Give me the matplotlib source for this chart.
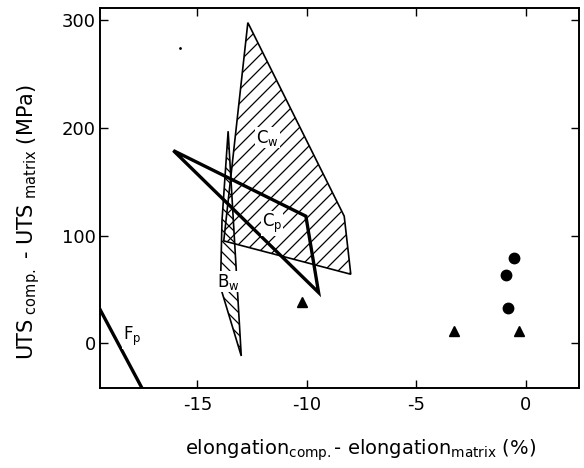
"""
UTS gain versus elongation loss for the composite families (scanned figure redraw).
"""

import matplotlib

matplotlib.use("Agg")
import matplotlib.pyplot as plt
import numpy as np
from matplotlib.collections import LineCollection
from matplotlib.patches import Polygon

plt.rcParams["font.family"] = ["DejaVu Sans"]
plt.rcParams["mathtext.default"] = "regular"
plt.rcParams["axes.unicode_minus"] = False

# polygon outlines, (elongation diff %, UTS diff MPa)
cw_x = [-12.7, -8.3, -8.0, -13.8]
cw_y = [298, 118, 64, 95]
bw_x = [-13.6, -13.0, -13.95, -13.88]
bw_y = [197, -12, 52, 114]
cp_x = [-16.1, -10.05, -9.47]
cp_y = [179, 118, 47]
fp_x = [-19.6, -17.4]
fp_y = [37, -47]

# single measurements
circle_x = [-0.55, -0.93, -0.83]
circle_y = [79.5, 63.4, 32.5]
triangle_x = [-10.23, -3.28, -0.3]
triangle_y = [38.3, 11.4, 11.4]

region_labels = ["$C_w$", "$C_p$", "$B_w$", "$F_p$"]
label_x = [-11.8, -11.6, -13.6, -18.0]
label_y = [191, 111, 57, 6]

AX_W, AX_H = 479, 380  # axes size in pixels


def hatch(ax, patch, direction, spacing):
    """Hand-drawn style hatching clipped to a patch; spacing in pixels along x."""
    segs = []
    for c in np.arange(-AX_H - AX_W, AX_W + AX_H, spacing):
        if direction > 0:
            p0, p1 = (c, 0), (c + AX_H, AX_H)
        else:
            p0, p1 = (c, AX_H), (c + AX_H, 0)
        segs.append([(p0[0] / AX_W, p0[1] / AX_H), (p1[0] / AX_W, p1[1] / AX_H)])
    lines = LineCollection(segs, colors="black", linewidths=0.9,
                           transform=ax.transAxes)
    lines.set_clip_path(patch)
    ax.add_collection(lines)


fig = plt.figure(figsize=(5.84, 4.68), dpi=100)
ax = fig.add_axes([100 / 584, 80 / 468, AX_W / 584, AX_H / 468])
ax.set_xlim(-19.45, 2.42)
ax.set_ylim(-41.8, 311.6)

cw = Polygon(list(zip(cw_x, cw_y)), closed=True, facecolor="none",
             edgecolor="black", linewidth=1.2)
bw = Polygon(list(zip(bw_x, bw_y)), closed=True, facecolor="none",
             edgecolor="black", linewidth=1.2)
ax.add_patch(cw)
ax.add_patch(bw)
hatch(ax, cw, 1, spacing=14)
hatch(ax, bw, -1, spacing=11)
ax.add_patch(Polygon(list(zip(cp_x, cp_y)), closed=True, facecolor="none",
                     edgecolor="black", linewidth=2.4, joinstyle="miter"))
ax.plot(fp_x, fp_y, color="black", linewidth=2.4)

ax.plot(circle_x, circle_y, "o", color="black", markersize=7.5)
ax.plot(triangle_x, triangle_y, "^", color="black", markersize=7)
ax.plot([-15.8], [274], ".", color="black", markersize=2)

for text, x, y in zip(region_labels, label_x, label_y):
    ax.text(x, y, text, fontsize=12, ha="center", va="center", zorder=5,
            bbox=dict(facecolor="white", edgecolor="none", pad=0.5))

ax.set_xticks([-15, -10, -5, 0])
ax.set_yticks([0, 100, 200, 300])
ax.tick_params(direction="in", length=6, width=1, top=True, right=True,
               labelsize=13)
ax.tick_params(axis="x", pad=6)
ax.tick_params(axis="y", pad=3)
for spine in ax.spines.values():
    spine.set_linewidth(1.4)

ax.set_xlabel("elongation$_{comp.}$- elongation$_{matrix}$ (%)", fontsize=14)
ax.set_ylabel("UTS$_{\\ comp.}$ - UTS$_{\\ matrix}$ (MPa)", fontsize=15)
ax.xaxis.set_label_coords(0.543, -0.13)
ax.yaxis.set_label_coords(-0.122, 0.437)

fig.savefig("out.png", dpi=100)
